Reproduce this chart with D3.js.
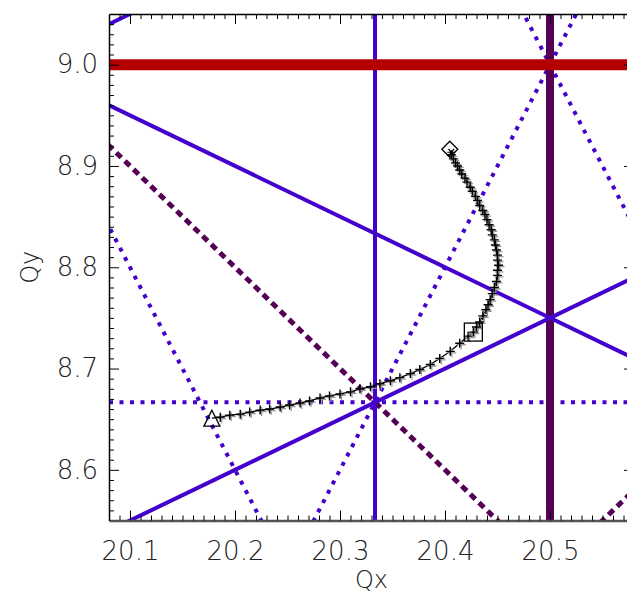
<!DOCTYPE html>
<html>
<head>
<meta charset="utf-8">
<script src="https://cdn.jsdelivr.net/npm/d3@7"></script>
<style>
  body { margin: 0; background: #fff; }
  svg text { font-family: "DejaVu Sans", sans-serif; font-weight: 200; fill: #222; }
</style>
</head>
<body>
<div id="chart"></div>
<script>
// axis ranges and labels
const qxDomain = [20.08, 20.58];
const qyDomain = [8.55, 9.05];
const qxTicks = [20.1, 20.2, 20.3, 20.4, 20.5];
const qyTicks = [8.6, 8.7, 8.8, 8.9, 9.0];

// resonance lines  a*Qx + b*Qy = n
const resA = [0, 2, 3, 0, 1, 1, 1, 2, 2, 2, 1, 1];
const resB = [1, 0, 0, 3, 2, -2, -2, 1, 1, -1, 1, -1];
const resN = [9, 41, 61, 26, 38, 3, 2, 49, 50, 32, 29, 12];
const resKind = ["int", "half", "normal3", "skew3", "normal3", "normal3", "normal3",
                 "skew3", "skew3", "skew3", "skew2", "skew2"];

// tune track
const trackQx = [20.178, 20.186, 20.195, 20.205, 20.214, 20.224, 20.233, 20.243, 20.252, 20.262,
  20.271, 20.281, 20.290, 20.300, 20.310, 20.319, 20.329, 20.338, 20.348, 20.357,
  20.367, 20.376, 20.386, 20.395, 20.405, 20.414, 20.422, 20.427, 20.430, 20.433,
  20.436, 20.439, 20.441, 20.443, 20.445, 20.447, 20.449, 20.450, 20.450, 20.451,
  20.450, 20.450, 20.449, 20.448, 20.447, 20.445, 20.444, 20.442, 20.440, 20.438,
  20.436, 20.433, 20.431, 20.429, 20.426, 20.424, 20.421, 20.419, 20.416, 20.414,
  20.412, 20.410, 20.408, 20.406];
const trackQy = [8.651, 8.652, 8.654, 8.655, 8.657, 8.659, 8.660, 8.662, 8.664, 8.666,
  8.668, 8.671, 8.673, 8.675, 8.677, 8.680, 8.682, 8.685, 8.688, 8.691,
  8.695, 8.699, 8.704, 8.710, 8.717, 8.725, 8.732, 8.736, 8.741, 8.746,
  8.752, 8.758, 8.763, 8.768, 8.774, 8.780, 8.786, 8.792, 8.797, 8.802,
  8.807, 8.812, 8.817, 8.822, 8.827, 8.832, 8.837, 8.842, 8.847, 8.852,
  8.856, 8.861, 8.866, 8.870, 8.875, 8.879, 8.884, 8.888, 8.892, 8.896,
  8.900, 8.903, 8.907, 8.911];
const startPt = [20.178, 8.650];
const squarePt = [20.427, 8.736];
const endPt = [20.406, 8.915];

const width = 627, height = 596;
const margin = {top: 14, right: -7, bottom: 75.5, left: 109};
const innerW = width - margin.left - margin.right;
const innerH = height - margin.top - margin.bottom;

const svg = d3.select("#chart").append("svg")
  .attr("width", width)
  .attr("height", height);

const g = svg.append("g")
  .attr("transform", "translate(" + margin.left + "," + margin.top + ")");

const x = d3.scaleLinear().domain(qxDomain).range([0, innerW]);
const y = d3.scaleLinear().domain(qyDomain).range([innerH, 0]);

g.append("clipPath").attr("id", "clip")
  .append("rect").attr("width", innerW).attr("height", innerH);

const lineStyle = {
  int:     {stroke: "#b40000", width: 11, dash: null},
  half:    {stroke: "#550055", width: 8, dash: null},
  normal3: {stroke: "#4400cc", width: 4, dash: null},
  skew3:   {stroke: "#4400cc", width: 4, dash: "4,6.5"},
  skew2:   {stroke: "#550055", width: 5, dash: "7,5"}
};
const drawOrder = ["skew3", "skew2", "half", "normal3", "int"];

let resonances = resA.map((a, i) => ({a: a, b: resB[i], n: resN[i], kind: resKind[i]}));
resonances.sort((p, q) => drawOrder.indexOf(p.kind) - drawOrder.indexOf(q.kind));

function endpoints(r) {
  if (r.b === 0) {
    let qx = r.n / r.a;
    return [[qx, qyDomain[0] - 0.1], [qx, qyDomain[1] + 0.1]];
  }
  let x0 = qxDomain[0] - 0.1, x1 = qxDomain[1] + 0.1;
  return [[x0, (r.n - r.a * x0) / r.b], [x1, (r.n - r.a * x1) / r.b]];
}

const plot = g.append("g").attr("clip-path", "url(#clip)");

plot.selectAll("line.res")
  .data(resonances)
  .enter()
  .append("line")
  .attr("class", "res")
  .attr("x1", d => x(endpoints(d)[0][0]))
  .attr("y1", d => y(endpoints(d)[0][1]))
  .attr("x2", d => x(endpoints(d)[1][0]))
  .attr("y2", d => y(endpoints(d)[1][1]))
  .attr("stroke", d => lineStyle[d.kind].stroke)
  .attr("stroke-width", d => lineStyle[d.kind].width)
  .attr("stroke-dasharray", d => lineStyle[d.kind].dash);

// tune track
const track = trackQx.map((qx, i) => [qx, trackQy[i]]);

plot.append("path")
  .datum(track)
  .attr("fill", "none")
  .attr("stroke", "#000")
  .attr("stroke-width", 1.3)
  .attr("d", d3.line().x(d => x(d[0])).y(d => y(d[1])));

const plus = "M-4.5,0H4.5M0,-4.5V4.5";
plot.selectAll("path.ghost")
  .data(track.slice(1))
  .enter()
  .append("path")
  .attr("class", "ghost")
  .attr("transform", d => "translate(" + (x(d[0]) + 1.5) + "," + (y(d[1]) + 1.5) + ")")
  .attr("d", plus)
  .attr("stroke", "#999")
  .attr("stroke-width", 1.3);

plot.selectAll("path.plus")
  .data(track.slice(1))
  .enter()
  .append("path")
  .attr("class", "plus")
  .attr("transform", d => "translate(" + x(d[0]) + "," + y(d[1]) + ")")
  .attr("d", plus)
  .attr("stroke", "#000")
  .attr("stroke-width", 1.4);

// start / marked / end symbols
plot.append("path")
  .attr("transform", "translate(" + x(startPt[0]) + "," + y(startPt[1]) + ")")
  .attr("d", "M0,-9L8,7H-8Z")
  .attr("fill", "none").attr("stroke", "#000").attr("stroke-width", 1.3);

plot.append("rect")
  .attr("x", x(squarePt[0]) - 9).attr("y", y(squarePt[1]) - 9)
  .attr("width", 18).attr("height", 18)
  .attr("fill", "none").attr("stroke", "#000").attr("stroke-width", 1.3);

plot.append("path")
  .attr("transform", "translate(" + (x(endPt[0]) - 1.5) + "," + (y(endPt[1]) - 1.5) + ")")
  .attr("d", "M0,-8L8,0L0,8L-8,0Z")
  .attr("fill", "none").attr("stroke", "#000").attr("stroke-width", 1.3);

plot.append("path")
  .attr("transform", "translate(" + x(endPt[0]) + "," + (y(endPt[1]) + 1.5) + ")")
  .attr("d", "M-4,0H4M-2.8,-3.5L2.8,3.5M2.8,-3.5L-2.8,3.5")
  .attr("stroke", "#000").attr("stroke-width", 1.2);

// axes
const qxMinor = d3.range(20.09, 20.575, 0.01).filter(v => !qxTicks.some(t => Math.abs(t - v) < 1e-6));
const qyMinor = d3.range(8.56, 9.045, 0.01).filter(v => !qyTicks.some(t => Math.abs(t - v) < 1e-6));

function styleAxis(sel) {
  sel.select(".domain").attr("stroke", "#000").attr("stroke-width", 1.5);
  sel.selectAll(".tick line").attr("stroke", "#000").attr("stroke-width", 1);
  sel.selectAll("text").attr("font-size", 26).attr("fill", "#222")
    .attr("font-family", "DejaVu Sans, sans-serif").attr("font-weight", 200);
}

// bottom
g.append("g").attr("transform", "translate(0," + innerH + ")")
  .call(d3.axisBottom(x).tickValues(qxTicks).tickSizeInner(-10).tickSizeOuter(0)
    .tickPadding(21).tickFormat(d3.format(".1f")))
  .call(styleAxis)
  .call(s => s.select(".domain").attr("stroke", "#555").attr("stroke-width", 2.5));
g.append("g").attr("transform", "translate(0," + innerH + ")")
  .call(d3.axisBottom(x).tickValues(qxMinor).tickSizeInner(-5).tickSizeOuter(0).tickFormat(""))
  .call(styleAxis).call(s => s.select(".domain").remove());

// top
g.append("g")
  .call(d3.axisTop(x).tickValues(qxTicks).tickSizeInner(-10).tickSizeOuter(0).tickFormat(""))
  .call(styleAxis);
g.append("g")
  .call(d3.axisTop(x).tickValues(qxMinor).tickSizeInner(-5).tickSizeOuter(0).tickFormat(""))
  .call(styleAxis).call(s => s.select(".domain").remove());

// left
g.append("g")
  .call(d3.axisLeft(y).tickValues(qyTicks).tickSizeInner(-10).tickSizeOuter(0)
    .tickPadding(11).tickFormat(d3.format(".1f")))
  .call(styleAxis);
g.append("g")
  .call(d3.axisLeft(y).tickValues(qyMinor).tickSizeInner(-5).tickSizeOuter(0).tickFormat(""))
  .call(styleAxis).call(s => s.select(".domain").remove());

// right
g.append("g").attr("transform", "translate(" + innerW + ",0)")
  .call(d3.axisRight(y).tickValues(qyTicks).tickSizeInner(-10).tickSizeOuter(0).tickFormat(""))
  .call(styleAxis);
g.append("g").attr("transform", "translate(" + innerW + ",0)")
  .call(d3.axisRight(y).tickValues(qyMinor).tickSizeInner(-5).tickSizeOuter(0).tickFormat(""))
  .call(styleAxis).call(s => s.select(".domain").remove());

// axis titles
svg.append("text")
  .attr("x", margin.left + x(20.33))
  .attr("y", 588)
  .attr("text-anchor", "middle")
  .attr("font-size", 24)
  .text("Qx");

svg.append("text")
  .attr("transform", "translate(38," + (margin.top + y(8.8)) + ") rotate(-90)")
  .attr("text-anchor", "middle")
  .attr("font-size", 24)
  .text("Qy");
</script>
</body>
</html>
